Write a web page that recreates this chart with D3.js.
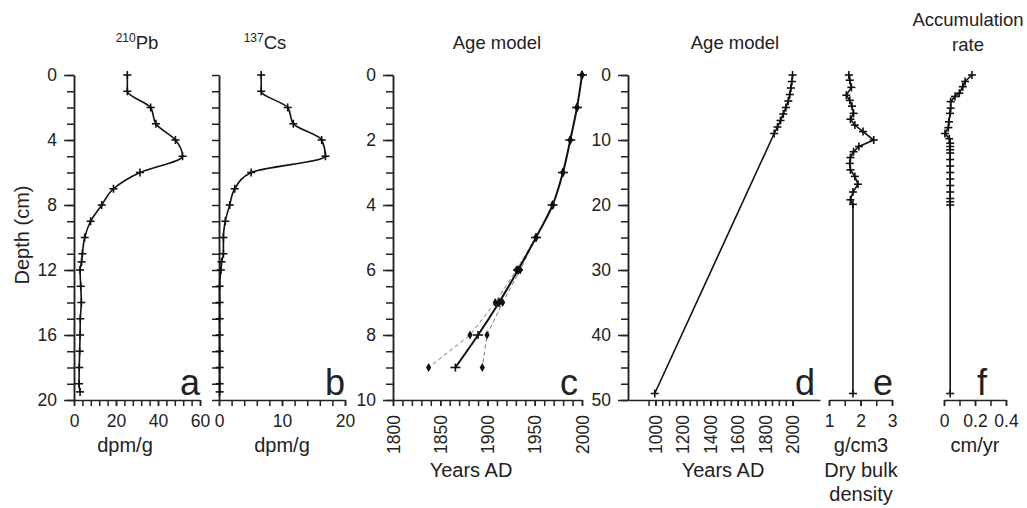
<!DOCTYPE html>
<html>
<head>
<meta charset="utf-8">
<script src="https://cdn.jsdelivr.net/npm/d3@7"></script>
<style>
  body { margin: 0; background: #fff; }
  svg text { font-family: "Liberation Sans", Arial, sans-serif; fill: #222; }
</style>
</head>
<body>
<svg id="chart" width="1027" height="508"></svg>
<script>
// ---- data ----
// panels a, b : activity profiles
const depthAB = [0, 1, 2, 3, 4, 5, 6, 7, 8, 9, 10, 11, 11.5, 12, 13, 14, 15, 16, 17, 18, 19, 19.5];
const pb210 = [25.4, 25.4, 36.5, 39, 48.3, 51.7, 31.4, 18.8, 13.2, 7.9, 5.1, 4, 3.6, 2.9, 3.2, 3.5, 3, 2.9, 2.7, 2.5, 2.4, 2.9];
const cs137 = [6.7, 6.7, 10.9, 11.8, 16.3, 16.9, 5.1, 2.5, 1.7, 1.0, 0.7, 0.7, 0.4, 0.3, 0.1, 0.1, 0.1, 0.1, 0.1, 0.1, 0.1, 0.1];

// panel c : age model (best fit + two error envelopes)
const depthC = [0, 1, 2, 3, 4, 5, 6, 7, 8, 9];
const ageMain = [2000, 1994.7, 1987.6, 1979.8, 1968.9, 1951.3, 1932.3, 1912.2, 1890, 1866];
const depthEnv = [5, 6, 7, 8, 9];
const ageLow = [1951.3, 1930.5, 1908.2, 1881.5, 1837.7];
const ageHigh = [1951.3, 1934.6, 1916, 1899.5, 1894.5];

// panel d : extended age model
const depthD = [0, 1, 2, 3, 4, 5, 6, 7, 8, 9, 49];
const ageD = [2000, 1994.7, 1987.6, 1979.8, 1968.9, 1951.3, 1932.3, 1912.2, 1890, 1866, 995];

// panel e : dry bulk density
const depthE = [0, 0.8, 1.9, 3.1, 3.9, 4.8, 5.9, 6.8, 7.7, 8.7, 10, 11, 11.8, 12.7, 13.6, 14.6, 15.6, 16.8, 18, 19.2, 19.9, 49];
const density = [1.63, 1.66, 1.71, 1.55, 1.66, 1.73, 1.78, 1.68, 1.82, 2.08, 2.42, 1.95, 1.78, 1.68, 1.66, 1.68, 1.82, 1.92, 1.76, 1.68, 1.76, 1.76];

// panel f : accumulation rate
const depthF = [0, 1, 1.8, 2.8, 3.3, 4.1, 5.1, 5.9, 7.2, 8.1, 9, 9.8, 10.5, 11, 11.5, 12, 13, 14, 15, 16, 17, 18, 19, 19.5, 20, 49];
const accRate = [0.18, 0.136, 0.121, 0.099, 0.071, 0.043, 0.043, 0.039, 0.032, 0.028, 0.006, 0.034, 0.04, 0.04, 0.04, 0.04, 0.04, 0.04, 0.04, 0.04, 0.04, 0.04, 0.04, 0.04, 0.04, 0.04];

// tick labels
const depthTicksAB = [0, 4, 8, 12, 16, 20];
const depthTicksC = [0, 2, 4, 6, 8, 10];
const depthTicksD = [0, 10, 20, 30, 40, 50];
const pbTicks = [0, 20, 40, 60];
const csTicks = [0, 10, 20];
const yearTicksC = [1800, 1850, 1900, 1950, 2000];
const yearTicksD = [1000, 1200, 1400, 1600, 1800, 2000];
const densTicks = [1, 2, 3];
const accTicks = [0, 0.2, 0.4];

const svg = d3.select("#chart");
const TOP = 75, BOT = 400;

const yAB = d3.scaleLinear().domain([0, 20]).range([TOP, BOT]);
const yC = d3.scaleLinear().domain([0, 10]).range([TOP, BOT]);
const yD = d3.scaleLinear().domain([0, 50]).range([TOP, BOT]);
const xA = d3.scaleLinear().domain([0, 60]).range([74, 200]);
const xB = d3.scaleLinear().domain([0, 20]).range([219, 345]);
const xC = d3.scaleLinear().domain([1800, 2000]).range([393, 582]);
const xD = d3.scaleLinear().domain([800, 2200]).range([628, 820]);
const xE = d3.scaleLinear().domain([1, 3]).range([829, 892]);
const xF = d3.scaleLinear().domain([0, 0.4]).range([944, 1006]);

const plain = (d) => String(d);

function styleAxis(g) {
  g.select(".domain").attr("stroke", "#222").attr("stroke-width", 1.5);
  g.selectAll(".tick line").attr("stroke", "#222").attr("stroke-width", 1.5);
  g.selectAll(".tick text").attr("font-size", 17.5).attr("fill", "#222")
    .attr("font-family", '"Liberation Sans", Arial, sans-serif');
}

function yAxis(x, y, major, step) {
  const minor = d3.range(y.domain()[0], y.domain()[1] + step / 2, step);
  svg.append("g").attr("transform", `translate(${x},0)`)
    .call(d3.axisLeft(y).tickValues(minor).tickSize(7).tickFormat("").tickSizeOuter(0))
    .call(styleAxis);
  svg.append("g").attr("transform", `translate(${x},0)`)
    .call(d3.axisLeft(y).tickValues(major).tickFormat(plain).tickSize(10).tickPadding(7).tickSizeOuter(0))
    .call(styleAxis);
}

function xAxis(x, major, minor, rotate) {
  svg.append("g").attr("transform", `translate(0,${BOT})`)
    .call(d3.axisBottom(x).tickValues(minor).tickSize(6).tickFormat("").tickSizeOuter(0))
    .call(styleAxis);
  const g = svg.append("g").attr("transform", `translate(0,${BOT})`)
    .call(d3.axisBottom(x).tickValues(major).tickFormat(plain).tickSize(6).tickPadding(9).tickSizeOuter(0))
    .call(styleAxis);
  g.select(".domain").remove();
  if (rotate) {
    g.selectAll(".tick text")
      .attr("y", 0).attr("x", -15).attr("dy", "0.35em")
      .attr("transform", "rotate(-90)")
      .style("text-anchor", "end");
  }
}

function line(x, y, ds, vs, curve, opts = {}) {
  const pts = ds.map((d, i) => [vs[i], d]);
  svg.append("path")
    .attr("d", d3.line().x(p => x(p[0])).y(p => y(p[1])).curve(curve || d3.curveLinear)(pts))
    .attr("fill", "none")
    .attr("stroke", opts.color || "#111")
    .attr("stroke-width", opts.width || 1.6)
    .attr("stroke-dasharray", opts.dash || null);
}

function plus(x, y, ds, vs, w = 4, h = 4) {
  const g = svg.append("g").attr("stroke", "#111").attr("stroke-width", 1.6);
  ds.forEach((d, i) => {
    const cx = x(vs[i]), cy = y(d);
    g.append("line").attr("x1", cx - w).attr("x2", cx + w).attr("y1", cy).attr("y2", cy);
    g.append("line").attr("x1", cx).attr("x2", cx).attr("y1", cy - h).attr("y2", cy + h);
  });
}

function diamond(x, y, ds, vs, r = 3.2) {
  const sym = d3.symbol(d3.symbolDiamond, r * r * 2.3);
  svg.append("g").selectAll("path").data(ds).join("path")
    .attr("transform", (d, i) => `translate(${x(vs[i])},${y(d)})`)
    .attr("d", sym).attr("fill", "#111");
}

function label(x, y, txt, size, anchor = "middle", rot = 0) {
  return svg.append("text")
    .attr("transform", `translate(${x},${y}) rotate(${rot})`)
    .attr("text-anchor", anchor).attr("font-size", size).text(txt);
}

// ---- panel a ----
yAxis(74, yAB, depthTicksAB, 1);
xAxis(xA, pbTicks, d3.range(0, 61, 4), false);
line(xA, yAB, depthAB, pb210, d3.curveMonotoneY);
plus(xA, yAB, depthAB, pb210);

// ---- panel b ----
yAxis(219, yAB, [], 1);
xAxis(xB, csTicks, d3.range(0, 21, 2), false);
line(xB, yAB, depthAB, cs137, d3.curveMonotoneY);
plus(xB, yAB, depthAB, cs137);

// ---- panel c ----
yAxis(393, yC, depthTicksC, 0.5);
xAxis(xC, yearTicksC, d3.range(1800, 2001, 10), true);
line(xC, yC, depthEnv, ageLow, d3.curveLinear, { dash: "4 3", width: 0.8, color: "#555" });
line(xC, yC, depthEnv, ageHigh, d3.curveLinear, { dash: "4 3", width: 0.8, color: "#555" });
diamond(xC, yC, depthEnv.slice(1), ageLow.slice(1));
diamond(xC, yC, depthEnv.slice(1), ageHigh.slice(1));
line(xC, yC, depthC, ageMain, d3.curveMonotoneY, { width: 2 });
diamond(xC, yC, depthC.slice(0, 8), ageMain.slice(0, 8), 3.6);
plus(xC, yC, depthC, ageMain, 5, 4);

// ---- panel d ----
yAxis(628, yD, depthTicksD, 2.5);
xAxis(xD, yearTicksD, d3.range(950, 2001, 50), true);
line(xD, yD, depthD, ageD);
plus(xD, yD, depthD, ageD);

// ---- panel e ----
xAxis(xE, densTicks, d3.range(1, 3.01, 0.5), false);
line(xE, yD, depthE, density);
plus(xE, yD, depthE, density);

// ---- panel f ----
xAxis(xF, accTicks, d3.range(0, 0.401, 0.1), false);
line(xF, yD, depthF, accRate);
plus(xF, yD, depthF, accRate);

// ---- titles & labels ----
const t1 = label(137, 49, "", 18.5);
t1.append("tspan").attr("font-size", 12).attr("dy", -7).text("210");
t1.append("tspan").attr("dy", 7).text("Pb");
const t2 = label(265, 49, "", 18.5);
t2.append("tspan").attr("font-size", 12).attr("dy", -7).text("137");
t2.append("tspan").attr("dy", 7).text("Cs");
label(497, 49, "Age model", 18.5);
label(735, 49, "Age model", 18.5);
label(968, 26, "Accumulation", 18.5);
label(968, 51, "rate", 18.5);

label(29, 235, "Depth (cm)", 20, "middle", -90);
label(125, 452, "dpm/g", 20);
label(282, 452, "dpm/g", 20);
label(471, 477, "Years AD", 20);
label(723, 477, "Years AD", 20);
label(861, 452, "g/cm3", 20);
label(861, 477, "Dry bulk", 20);
label(861, 501, "density", 20);
label(975, 452, "cm/yr", 20);

[["a", 200], ["b", 345], ["c", 578], ["d", 815], ["e", 893], ["f", 987]].forEach(([l, x]) =>
  label(x, 395, l, 36, "end"));
</script>
</body>
</html>
